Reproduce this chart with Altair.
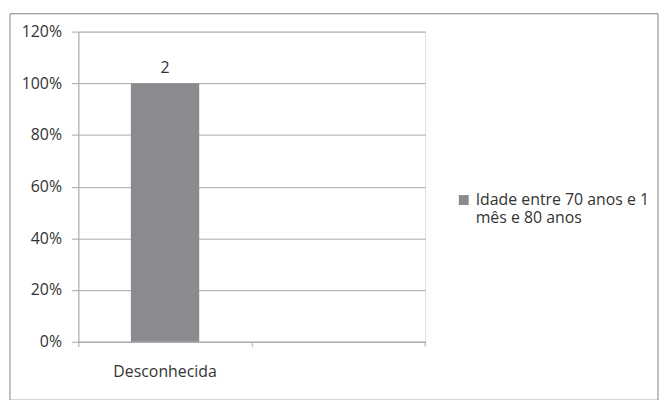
import altair as alt
import pandas as pd

categories = ["Desconhecida", " "]
values = [1.0, None]
counts = ["2", ""]
series = "Idade entre 70 anos e 1 mês e 80 anos"

df = pd.DataFrame({"cat": categories, "pct": values, "n": counts, "serie": [series, series]})
bars_df = df[df["pct"].notna()]

FONT = "Open Sans"
FS = 16
TXT = "#333333"
GRID = "#a8a8a8"

xscale = alt.Scale(domain=categories, paddingInner=0, paddingOuter=0)
x = alt.X("cat:N", scale=xscale,
          axis=alt.Axis(title=None, labelAngle=0, bandPosition=0, tickSize=5, tickColor=GRID,
                        domainColor=GRID, labelFontSize=FS, labelColor=TXT, labelFont=FONT,
                        labelPadding=17, grid=False))
y = alt.Y("pct:Q", scale=alt.Scale(domain=[0, 1.2], nice=False),
          axis=alt.Axis(title=None, format=".0%", values=[0, 0.2, 0.4, 0.6, 0.8, 1.0, 1.2],
                        tickSize=7, tickColor=GRID, domainColor=GRID, gridColor=GRID,
                        labelFontSize=FS, labelColor=TXT, labelFont=FONT, labelPadding=10))

base = alt.Chart(bars_df)

bars = base.mark_bar(color="#8a8b8e", width=69).encode(
    x=x, y=y,
    color=alt.Color("serie:N", scale=alt.Scale(range=["#8a8b8e"]),
                    legend=alt.Legend(title=None, orient="none", legendX=381, legendY=162,
                                      symbolType="square", symbolSize=100, symbolStrokeWidth=0,
                                      labelFontSize=FS, labelColor=TXT, labelFont=FONT,
                                      labelLimit=300, padding=0, labelOffset=4,
                                      labelExpr="['Idade entre 70 anos e 1', 'mês e 80 anos']")),
)

labels = base.mark_text(baseline="bottom", dy=-7, fontSize=FS, font=FONT, color=TXT).encode(
    x=alt.X("cat:N", scale=xscale), y="pct:Q", text="n:N")

end_tick = alt.Chart(bars_df).mark_rule(color=GRID).encode(
    x=alt.value(350), y=alt.value(313), y2=alt.value(318))

border = alt.Chart(bars_df).mark_rect(fill=None, stroke="#7f7f7f", strokeWidth=1, clip=False).encode(
    x=alt.value(-69), x2=alt.value(585), y=alt.value(-18), y2=alt.value(372))

chart = alt.layer(bars, labels, end_tick, border).properties(
    width=350, height=313,
    autosize=alt.AutoSizeParams(type="none"),
    padding={"left": 71, "top": 22, "right": 236, "bottom": 57},
).configure_view(stroke=None).configure(background="white",
                                        style={"guide-label": {"lineHeight": 18}})

chart.save("out.html", embed_options={"renderer": "svg", "actions": False})
